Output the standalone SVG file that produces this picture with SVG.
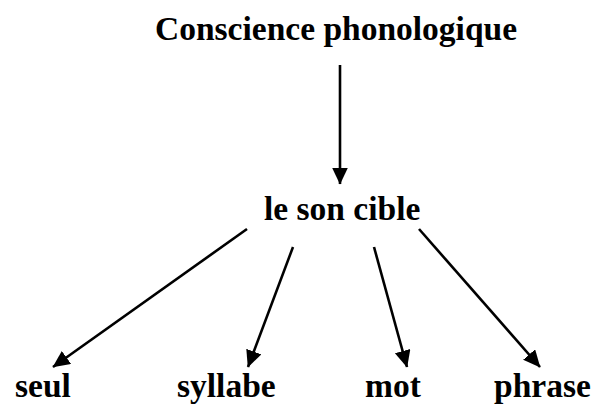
<svg xmlns="http://www.w3.org/2000/svg" width="593" height="404" viewBox="0 0 593 404">
  <style>
    .lbl { font-family: "Liberation Serif", "Times New Roman", serif; font-weight: bold; font-size: 33.5px; fill: #000; }
    .edge { stroke: #000; stroke-width: 2.6; fill: none; marker-end: url(#head); }
  </style>
  <defs>
    <!-- solid triangular arrowhead, tip at the line end -->
    <marker id="head" markerUnits="userSpaceOnUse" markerWidth="19" markerHeight="17" refX="16.5" refY="8" orient="auto">
      <path d="M0,0 L17,8 L0,16 Z" fill="#000"/>
    </marker>
  </defs>
  <rect width="593" height="404" fill="#fff"/>

  <g id="connectors">
    <line class="edge" x1="340" y1="65" x2="340" y2="184"/>
    <line class="edge" x1="247" y1="229" x2="53" y2="367"/>
    <line class="edge" x1="293" y1="247" x2="248" y2="367"/>
    <line class="edge" x1="374" y1="247" x2="407" y2="367"/>
    <line class="edge" x1="419" y1="229" x2="540" y2="367"/>
  </g>

  <g id="conscience"><text class="lbl" x="155" y="40">Conscience phonologique</text></g>
  <g id="son-cible"><text class="lbl" x="264" y="220">le son cible</text></g>
  <g id="seul"><text class="lbl" x="15" y="397">seul</text></g>
  <g id="syllabe"><text class="lbl" x="177" y="397">syllabe</text></g>
  <g id="mot"><text class="lbl" x="365" y="397">mot</text></g>
  <g id="phrase"><text class="lbl" x="494" y="397">phrase</text></g>
</svg>
